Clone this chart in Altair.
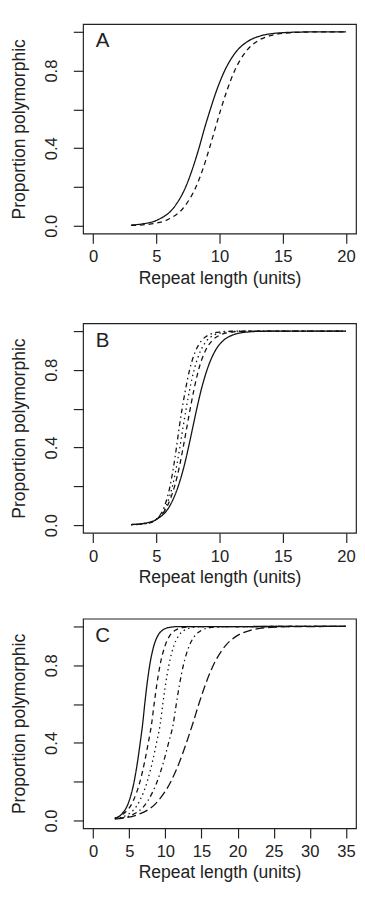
import altair as alt
import pandas as pd

# ---------------- data ----------------
# Panel A
A_solid_x = [3, 3.88, 5.08, 6.45, 7.32, 7.89, 8.37, 8.8, 9.27, 9.78, 10.41, 11.35, 12.22, 13.31, 14.94, 16.8, 20]
A_solid_p = [0.004, 0.01, 0.03, 0.1, 0.2, 0.3, 0.4, 0.5, 0.6, 0.7, 0.8, 0.9, 0.95, 0.98, 0.995, 0.999, 1.0]
A_dash_x = [3, 4.6, 5.83, 7.23, 8.13, 8.72, 9.2, 9.65, 10.1, 10.6, 11.2, 12.11, 12.95, 14.01, 15.58, 17.4, 20]
A_dash_p = [0.002, 0.01, 0.03, 0.1, 0.2, 0.3, 0.4, 0.5, 0.6, 0.7, 0.8, 0.9, 0.95, 0.98, 0.995, 0.999, 1.0]

# Panel B
B_solid_x = [3, 4.1, 5.02, 6.07, 6.73, 7.18, 7.54, 7.87, 8.2, 8.56, 9.01, 9.67, 10.28, 11.06, 12.21, 13.5, 20]
B_solid_p = [0.003, 0.01, 0.03, 0.1, 0.2, 0.3, 0.4, 0.5, 0.6, 0.7, 0.8, 0.9, 0.95, 0.98, 0.995, 0.999, 1.0]
B_dash_x = [3, 4.23, 5.0, 5.88, 6.44, 6.82, 7.12, 7.4, 7.68, 7.98, 8.34, 8.89, 9.4, 10.05, 11.0, 12.1, 20]
B_dash_p = [0.003, 0.01, 0.03, 0.1, 0.2, 0.3, 0.4, 0.5, 0.6, 0.7, 0.8, 0.9, 0.95, 0.98, 0.995, 0.999, 1.0]
B_dot_x = [3, 4.34, 5.0, 5.78, 6.27, 6.59, 6.86, 7.1, 7.36, 7.64, 7.99, 8.51, 8.98, 9.59, 10.49, 11.5, 20]
B_dot_p = [0.003, 0.01, 0.03, 0.1, 0.2, 0.3, 0.4, 0.5, 0.6, 0.7, 0.8, 0.9, 0.95, 0.98, 0.995, 0.999, 1.0]
B_dotdash_x = [3, 4.41, 5.0, 5.66, 6.08, 6.36, 6.59, 6.8, 7.04, 7.31, 7.63, 8.12, 8.57, 9.14, 9.98, 10.9, 20]
B_dotdash_p = [0.002, 0.01, 0.03, 0.1, 0.2, 0.3, 0.4, 0.5, 0.6, 0.7, 0.8, 0.9, 0.95, 0.98, 0.995, 0.999, 1.0]

# Panel C
C_solid_x = [3, 3.87, 4.97, 5.67, 6.13, 6.51, 6.86, 7.14, 7.45, 7.83, 8.4, 8.92, 9.58, 10.56, 11.7, 35]
C_solid_p = [0.012, 0.03, 0.1, 0.2, 0.3, 0.4, 0.5, 0.6, 0.7, 0.8, 0.9, 0.95, 0.98, 0.995, 0.999, 1.0]
C_dash_x = [3, 4.03, 5.53, 6.48, 7.11, 7.63, 8.1, 8.44, 8.81, 9.26, 9.95, 10.57, 11.37, 12.55, 13.9, 35]
C_dash_p = [0.012, 0.03, 0.1, 0.2, 0.3, 0.4, 0.5, 0.6, 0.7, 0.8, 0.9, 0.95, 0.98, 0.995, 0.999, 1.0]
C_dot_x = [3, 4.75, 6.42, 7.48, 8.19, 8.77, 9.3, 9.64, 10.02, 10.48, 11.17, 11.8, 12.61, 13.8, 15.2, 35]
C_dot_p = [0.01, 0.03, 0.1, 0.2, 0.3, 0.4, 0.5, 0.6, 0.7, 0.8, 0.9, 0.95, 0.98, 0.995, 0.999, 1.0]
C_dotdash_x = [3, 5.47, 7.54, 8.85, 9.73, 10.44, 11.1, 11.51, 11.95, 12.49, 13.3, 14.04, 14.99, 16.39, 18.0, 35]
C_dotdash_p = [0.008, 0.03, 0.1, 0.2, 0.3, 0.4, 0.5, 0.6, 0.7, 0.8, 0.9, 0.95, 0.98, 0.995, 0.999, 1.0]
C_longdash_x = [3, 6.15, 8.97, 10.75, 11.94, 12.91, 13.8, 14.63, 15.54, 16.64, 18.3, 19.84, 21.78, 24.65, 27.9, 35]
C_longdash_p = [0.008, 0.03, 0.1, 0.2, 0.3, 0.4, 0.5, 0.6, 0.7, 0.8, 0.9, 0.95, 0.98, 0.995, 0.999, 1.0]

Y_TICKS = [0, 0.2, 0.4, 0.6, 0.8, 1.0]
X_TICKS_AB = [0, 5, 10, 15, 20]
X_TICKS_C = [0, 5, 10, 15, 20, 25, 30, 35]

STYLES = ["solid", "dashed", "dotted", "dotdash", "longdash"]
DASHES = [[1, 0], [5, 4], [1.5, 3.5], [1.5, 3.5, 5, 3.5], [9, 4]]


def frame(series):
    rows = []
    for name, xs, ps in series:
        for x, p in zip(xs, ps):
            rows.append({"series": name, "x": x, "p": p})
    return pd.DataFrame(rows)


dfA = frame([("solid", A_solid_x, A_solid_p), ("dashed", A_dash_x, A_dash_p)])
dfB = frame([("solid", B_solid_x, B_solid_p), ("dashed", B_dash_x, B_dash_p),
             ("dotted", B_dot_x, B_dot_p), ("dotdash", B_dotdash_x, B_dotdash_p)])
dfC = frame([("solid", C_solid_x, C_solid_p), ("dashed", C_dash_x, C_dash_p),
             ("dotted", C_dot_x, C_dot_p), ("dotdash", C_dotdash_x, C_dotdash_p),
             ("longdash", C_longdash_x, C_longdash_p)])

INK = "#222222"


def panel(df, xdom, xticks, letter):
    x_axis = alt.Axis(values=xticks, title="Repeat length (units)", grid=False, domain=False,
                      tickSize=10, tickColor=INK, tickWidth=1.2, labelPadding=6,
                      labelFontSize=17, titleFontSize=18, titlePadding=5,
                      labelColor=INK, titleColor=INK, titleFontWeight="normal", labelFlush=False)
    y_axis = alt.Axis(values=Y_TICKS, title="Proportion polymorphic", grid=False, domain=False,
                      tickSize=10, tickColor=INK, tickWidth=1.2, labelAngle=270,
                      labelAlign="center", labelBaseline="bottom", labelPadding=13,
                      labelExpr="(round(datum.value*10) % 4 == 0) ? format(datum.value, '.1f') : ''",
                      labelFontSize=17, titleFontSize=18, titlePadding=15,
                      labelColor=INK, titleColor=INK, titleFontWeight="normal", labelFlush=False)
    lines = alt.Chart(df).mark_line(interpolate="monotone", strokeWidth=1.3, color="#111111").encode(
        x=alt.X("x:Q", scale=alt.Scale(domain=xdom, nice=False, zero=False), axis=x_axis),
        y=alt.Y("p:Q", scale=alt.Scale(domain=[-0.04, 1.04], nice=False), axis=y_axis),
        strokeDash=alt.StrokeDash("series:N", scale=alt.Scale(domain=STYLES, range=DASHES), legend=None),
        detail="series:N",
    )
    label = alt.Chart(pd.DataFrame({"t": [letter]})).mark_text(
        fontSize=21, align="center", baseline="middle", color=INK
    ).encode(x=alt.value(20), y=alt.value(18), text="t:N")
    return alt.layer(lines, label).properties(width=280, height=215)


top_pair = alt.vconcat(
    panel(dfA, [-0.8, 20.8], X_TICKS_AB, "A"),
    panel(dfB, [-0.8, 20.8], X_TICKS_AB, "B"),
    spacing=35,
)

chart = alt.vconcat(
    top_pair,
    panel(dfC, [-1.4, 36.4], X_TICKS_C, "C"),
    spacing=31,
).properties(
    padding={"left": 2, "top": 4, "right": 0, "bottom": 0}
).configure(
    font="Liberation Sans"
).configure_view(
    stroke=INK, strokeWidth=1.2
)

chart.save("out.html", embed_options={"renderer": "svg", "actions": False})
